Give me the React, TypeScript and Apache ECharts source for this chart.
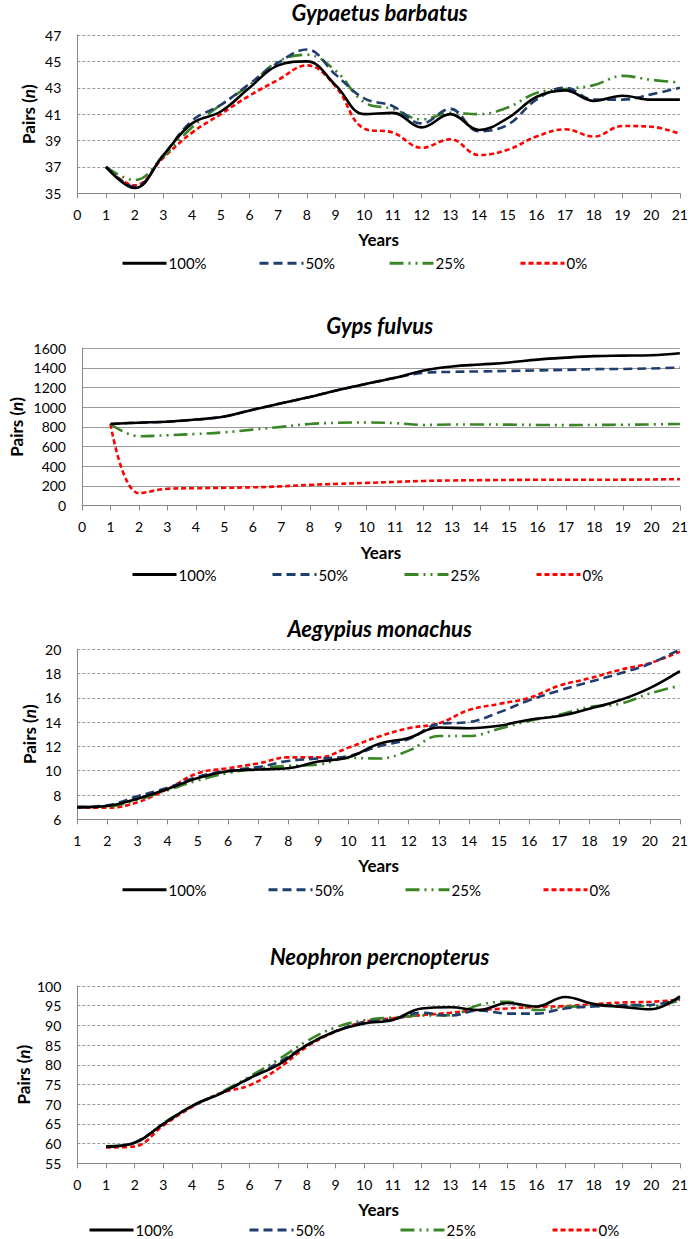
import React, { useEffect, useRef } from "react";
import * as echarts from "echarts";

// ---------- data ----------
const YEARS = [1, 2, 3, 4, 5, 6, 7, 8, 9, 10, 11, 12, 13, 14, 15, 16, 17, 18, 19, 20, 21];
const SCENARIOS = ["100%", "50%", "25%", "0%"];

// Gypaetus barbatus
const gb100 = [37, 35.4, 37.9, 40.3, 41.2, 43.0, 44.7, 45.0, 43.2, 41.0, 41.1, 40.0, 41.0, 39.8, 40.7, 42.3, 42.8, 42.0, 42.4, 42.1, 42.1];
const gb50 = [37, 35.5, 37.9, 40.5, 41.7, 43.3, 44.9, 45.9, 44.0, 42.2, 41.6, 40.3, 41.4, 39.7, 40.2, 42.1, 43.0, 42.1, 42.1, 42.5, 43.0];
const gb25 = [37, 36.0, 37.8, 40.0, 41.7, 43.2, 45.0, 45.5, 44.3, 41.9, 41.4, 40.6, 41.1, 41.0, 41.5, 42.6, 42.9, 43.2, 43.9, 43.6, 43.4];
const gb0 = [37, 35.6, 37.7, 39.6, 41.0, 42.4, 43.6, 44.7, 43.1, 39.9, 39.6, 38.45, 39.1, 37.9, 38.3, 39.3, 39.85, 39.3, 40.1, 40.05, 39.5];

// Gyps fulvus
const gf100 = [830, 843, 853, 875, 905, 975, 1040, 1105, 1175, 1240, 1300, 1375, 1415, 1435, 1455, 1485, 1505, 1520, 1525, 1530, 1550];
const gf50 = [830, 843, 853, 875, 905, 975, 1040, 1105, 1175, 1240, 1300, 1350, 1360, 1365, 1370, 1375, 1380, 1388, 1390, 1395, 1405];
const gf25 = [830, 705, 715, 728, 745, 772, 800, 830, 842, 845, 838, 820, 825, 825, 823, 820, 818, 820, 822, 825, 830];
const gf0 = [830, 125, 170, 176, 180, 185, 195, 210, 220, 230, 240, 250, 255, 258, 260, 262, 262, 262, 263, 265, 268];

// Aegypius monachus
const am100 = [7.0, 7.1, 7.7, 8.5, 9.4, 9.95, 10.1, 10.2, 10.75, 11.1, 12.2, 12.7, 13.55, 13.5, 13.7, 14.2, 14.5, 15.1, 15.8, 16.8, 18.2];
const am50 = [7.0, 7.15, 7.9, 8.6, 9.5, 10.0, 10.3, 10.8, 11.0, 11.2, 12.0, 12.6, 13.85, 14.0, 14.8, 15.8, 16.6, 17.3, 18.0, 18.8, 20.0];
const am25 = [7.0, 7.05, 7.6, 8.4, 9.2, 9.8, 10.2, 10.4, 10.5, 11.05, 11.0, 11.65, 12.85, 12.85, 13.45, 14.1, 14.6, 15.25, 15.5, 16.35, 17.0];
const am0 = [6.95, 6.95, 7.4, 8.5, 9.8, 10.2, 10.6, 11.1, 11.1, 11.9, 12.8, 13.5, 13.9, 15.0, 15.5, 16.0, 17.0, 17.6, 18.3, 18.85, 19.8];

// Neophron percnopterus
const np100 = [59.2, 60.2, 65.0, 69.6, 72.7, 76.6, 80.0, 85.0, 88.5, 90.5, 91.4, 94.3, 94.6, 93.9, 95.7, 94.8, 97.2, 95.4, 94.7, 94.1, 97.4];
const np50 = [59.2, 60.3, 65.0, 69.5, 72.8, 76.5, 80.5, 85.0, 88.5, 90.8, 91.5, 93.2, 92.5, 93.8, 93.0, 93.0, 94.3, 94.8, 95.1, 95.2, 96.9];
const np25 = [59.3, 60.2, 65.2, 69.5, 73.0, 77.0, 81.3, 86.0, 89.5, 91.3, 92.0, 92.5, 92.6, 95.2, 96.0, 93.9, 94.7, 94.9, 95.2, 94.9, 96.4];
const np0 = [59.0, 59.3, 64.6, 69.3, 72.8, 74.8, 79.0, 84.6, 88.4, 90.9, 91.8, 92.6, 93.2, 93.9, 94.3, 94.7, 94.9, 95.4, 95.8, 96.0, 96.5];

// ---------- styles / layout ----------
const FONT = "Lato";
const LINE_STYLES = [
  { color: "#000000", type: "solid" as any },
  { color: "#1F3D6E", type: [9, 5] as any },
  { color: "#3A8526", type: [14, 5, 2, 5, 2, 5] as any },
  { color: "#FF0000", type: [5, 3] as any },
];

const PANELS = [
  { title: "Gypaetus barbatus", series: [gb100, gb50, gb25, gb0], yMin: 35, yMax: 47, yInt: 2, xMin: 0,
    top: 35, bottom: 193.3, dashed: true, titleY: 12.5, legendY: 262.7, legendX: [121, 258, 388, 519], nameGap: 40 },
  { title: "Gyps fulvus", series: [gf100, gf50, gf25, gf0], yMin: 0, yMax: 1600, yInt: 200, xMin: 0,
    top: 348.3, bottom: 505.5, dashed: false, titleY: 325, legendY: 574, legendX: [131, 271, 403, 535], nameGap: 57 },
  { title: "Aegypius monachus", series: [am100, am50, am25, am0], yMin: 6, yMax: 20, yInt: 2, xMin: 1,
    top: 649.2, bottom: 819.3, dashed: true, titleY: 628.3, legendY: 889.3, legendX: [121, 267, 404, 542], nameGap: 39 },
  { title: "Neophron percnopterus", series: [np100, np50, np25, np0], yMin: 55, yMax: 100, yInt: 5, xMin: 0,
    top: 986, bottom: 1163.3, dashed: true, titleY: 956.7, legendY: 1229.5, legendX: [88, 248, 399, 551], nameGap: 45 },
];

const PLOT_LEFT = 77.3;
const PLOT_RIGHT = 682;
const W = 691;
const H = 1239;

function buildOption() {
  const grid: any[] = [];
  const xAxis: any[] = [];
  const yAxis: any[] = [];
  const series: any[] = [];
  const title: any[] = [];
  const legend: any[] = [];
  const axisColor = "#868686";
  const gridColor = "#9a9a9a";

  PANELS.forEach((p, i) => {
    grid.push({ left: PLOT_LEFT, width: PLOT_RIGHT - PLOT_LEFT, top: p.top, height: p.bottom - p.top });
    title.push({
      text: p.title,
      left: (PLOT_LEFT + PLOT_RIGHT) / 2,
      textAlign: "center",
      top: p.titleY - 12,
      padding: 0,
      textStyle: { fontFamily: FONT, fontSize: 22, fontWeight: "bold", fontStyle: "italic", color: "#000", lineHeight: 24 },
    });
    xAxis.push({
      type: "value",
      gridIndex: i,
      min: p.xMin,
      max: 21,
      interval: 1,
      name: "Years",
      nameLocation: "middle",
      nameGap: 38,
      nameMoveOverlap: false,
      nameTextStyle: { fontFamily: FONT, fontSize: 17, fontWeight: "bold", color: "#000" },
      axisLine: { show: true, lineStyle: { color: axisColor, width: 1 } },
      axisTick: { show: true, inside: false, length: 5, lineStyle: { color: axisColor } },
      axisLabel: { fontFamily: FONT, fontSize: 14, color: "#000", margin: 14 },
      splitLine: { show: false },
    });
    yAxis.push({
      type: "value",
      gridIndex: i,
      min: p.yMin,
      max: p.yMax,
      interval: p.yInt,
      name: "Pairs ({i|n})",
      nameLocation: "middle",
      nameGap: p.nameGap,
      nameRotate: 90,
      nameMoveOverlap: false,
      nameTextStyle: {
        fontFamily: FONT, fontSize: 17, fontWeight: "bold", color: "#000",
        rich: { i: { fontFamily: FONT, fontSize: 17, fontWeight: "bold", fontStyle: "italic", color: "#000" } },
      },
      axisLine: { show: true, lineStyle: { color: axisColor, width: 1 } },
      axisTick: { show: false },
      axisLabel: { fontFamily: FONT, fontSize: 14, color: "#000", margin: 16, formatter: (v: number) => String(v) },
      splitLine: { show: true, lineStyle: { color: gridColor, width: 1, type: p.dashed ? [3, 2] : "solid" } },
    });
    p.series.forEach((vals, k) => {
      series.push({
        type: "line",
        name: SCENARIOS[k],
        xAxisIndex: i,
        yAxisIndex: i,
        data: YEARS.map((y, j) => [y, vals[j]]),
        smooth: 0.4,
        symbol: "none",
        showSymbol: false,
        z: 10 - k,
        lineStyle: { color: LINE_STYLES[k].color, width: 2.6, type: LINE_STYLES[k].type },
        itemStyle: { color: LINE_STYLES[k].color },
      });
      legend.push({
        data: [SCENARIOS[k]],
        left: p.legendX[k],
        top: p.legendY - 7,
        padding: 0,
        itemWidth: 44,
        itemHeight: 14,
        itemGap: 0,
        selectedMode: false,
        itemStyle: { opacity: 0 },
        lineStyle: { width: 3 },
        textStyle: { fontFamily: FONT, fontSize: 15, lineHeight: 14, color: "#000", padding: [0, 0, 0, -3] },
      });
    });
  });

  return { animation: false, backgroundColor: "#ffffff", title, legend, grid, xAxis, yAxis, series };
}

export default function App() {
  const ref = useRef<HTMLDivElement>(null);
  useEffect(() => {
    if (!ref.current) return;
    const chart = echarts.init(ref.current, null, { renderer: "svg" });
    chart.setOption(buildOption() as any);
    return () => chart.dispose();
  }, []);
  return <div ref={ref} style={{ position: "absolute", left: 0, top: 0, width: W, height: H }} />;
}
